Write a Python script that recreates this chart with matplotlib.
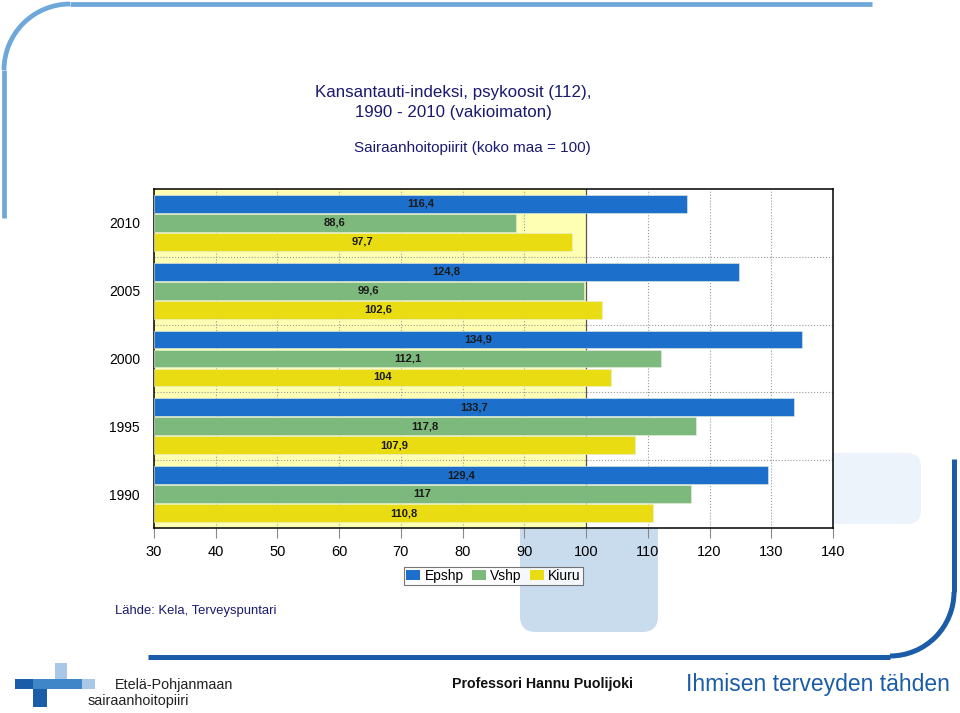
import matplotlib
matplotlib.use("Agg")
import matplotlib.pyplot as plt
from matplotlib.patches import Arc, FancyBboxPatch, Rectangle
from matplotlib.patches import Patch
import numpy as np

plt.rcParams['font.family'] = ['Liberation Sans', 'DejaVu Sans']

# data (bottom to top)
years = ['1990', '1995', '2000', '2005', '2010']
epshp = [129.4, 133.7, 134.9, 124.8, 116.4]
vshp = [117.0, 117.8, 112.1, 99.6, 88.6]
kiuru = [110.8, 107.9, 104.0, 102.6, 97.7]
series_names = ['Epshp', 'Vshp', 'Kiuru']
colors = ['#1C6FCB', '#7DB87C', '#E9DC12']
xticks = [30, 40, 50, 60, 70, 80, 90, 100, 110, 120, 130, 140]

fig = plt.figure(figsize=(9.6, 7.13), dpi=100)

# slide background decorations, drawn in pixel units
bg = fig.add_axes([0, 0, 1, 1], zorder=0)
bg.set_xlim(0, 960)
bg.set_ylim(0, 713)
bg.axis('off')

def py(y):
    return 713 - y

light = '#6EA7DA'
dark = '#1A5CA8'
bg.plot([70, 872], [py(4), py(4)], color=light, lw=3.4, solid_capstyle='butt')
bg.plot([4, 4], [py(70), py(218)], color=light, lw=3.4, solid_capstyle='butt')
bg.add_patch(Arc((70, py(70)), 132, 132, theta1=90, theta2=180, color=light, lw=3.4))

bg.plot([148, 890], [py(657), py(657)], color=dark, lw=3.6, solid_capstyle='butt')
bg.plot([954, 954], [py(459), py(592)], color=dark, lw=3.6, solid_capstyle='butt')
bg.add_patch(Arc((890, py(592)), 128, 128, theta1=270, theta2=360, color=dark, lw=3.6))

bg.add_patch(FancyBboxPatch((520, py(632)), 138, 150, boxstyle='round,pad=0,rounding_size=16',
                            fc='#C9DCEE', ec='none'))
bg.add_patch(FancyBboxPatch((790, py(524)), 131, 71, boxstyle='round,pad=0,rounding_size=14',
                            fc='#EDF3FA', ec='none'))

# logo
bg.add_patch(Rectangle((55, py(679)), 12, 16, fc='#A9C8E8', ec='none'))
bg.add_patch(Rectangle((15, py(689)), 18, 10, fc=dark, ec='none'))
bg.add_patch(Rectangle((33, py(689)), 49, 10, fc='#3F86C8', ec='none'))
bg.add_patch(Rectangle((82, py(689)), 13, 10, fc='#A9C8E8', ec='none'))
bg.add_patch(Rectangle((33, py(707)), 14, 18, fc=dark, ec='none'))
bg.text(115, py(685), 'Etelä-Pohjanmaan', fontsize=10.4, color='#222222',
        va='center', ha='left')
bg.text(88, py(701), 'sairaanhoitopiiri', fontsize=10.4, color='#222222',
        va='center', ha='left')
bg.text(452, py(684), 'Professori Hannu Puolijoki', fontsize=10.2,
        fontweight='bold', color='#111111', va='center', ha='left')
bg.text(686, py(684), 'Ihmisen terveyden tähden', fontsize=16.5,
        color=dark, va='center', ha='left')
bg.text(115, py(611), 'Lähde: Kela, Terveyspuntari', fontsize=9.4,
        color='#1A1A6E', va='center', ha='left')

# titles
bg.text(453, py(92), 'Kansantauti-indeksi, psykoosit (112),', fontsize=12.2,
        color='#1A1A6E', ha='center', va='center')
bg.text(453, py(112), '1990 - 2010 (vakioimaton)', fontsize=12.2,
        color='#1A1A6E', ha='center', va='center')
bg.text(472, py(148), 'Sairaanhoitopiirit (koko maa = 100)', fontsize=11,
        color='#1A1A6E', ha='center', va='center')

# main chart
ax = fig.add_axes([154 / 960, 185 / 713, 679 / 960, 339 / 713], zorder=2)
ax.set_facecolor('white')
ax.axvspan(30, 100, color='#FFFFB4', zorder=0, lw=0)

y = np.arange(len(years))
h = 0.265
off = 0.28
for vals, o, c in zip([epshp, vshp, kiuru], [off, 0, -off], colors):
    vals = np.array(vals)
    ax.barh(y + o, vals - 30, left=30, height=h, color=c, edgecolor='#E8F0E0',
            lw=0.4, zorder=3)
    for yi, v in zip(y, vals):
        ax.text((v + 30) / 2, yi + o, f'{v:g}'.replace('.', ','), ha='center',
                va='center', fontsize=8, fontweight='bold', color='#1a1a1a', zorder=4)

for xv in xticks[1:-1]:
    if xv == 100:
        ax.axvline(xv, color='#555555', lw=0.9, zorder=1)
    else:
        ax.axvline(xv, color='#999999', lw=0.8, ls=':', zorder=1)
for yv in [0.5, 1.5, 2.5, 3.5]:
    ax.axhline(yv, color='#999999', lw=0.8, ls=':', zorder=1)

ax.set_xlim(30, 140)
ax.set_ylim(-0.5, 4.5)
ax.set_xticks(xticks)
ax.set_xticklabels([str(t) for t in xticks], fontsize=10.5)
ax.set_yticks(y)
ax.set_yticklabels(years, fontsize=10)
ax.tick_params(axis='x', length=7, color='#888888', pad=5)
ax.tick_params(axis='y', length=0, pad=10)
for s in ax.spines.values():
    s.set_color('black')
    s.set_linewidth(1.1)

handles = [Patch(fc=c, ec='none') for c in colors]
leg = ax.legend(handles, series_names, loc='upper center', bbox_to_anchor=(0.5, -0.115),
                ncol=3, fontsize=10, frameon=True, fancybox=False, handlelength=1.0,
                handleheight=0.7, handletextpad=0.3, columnspacing=0.6,
                borderpad=0.15, borderaxespad=0)
leg.get_frame().set_edgecolor('#555555')
leg.get_frame().set_linewidth(0.8)

fig.savefig('out.png', dpi=100)
